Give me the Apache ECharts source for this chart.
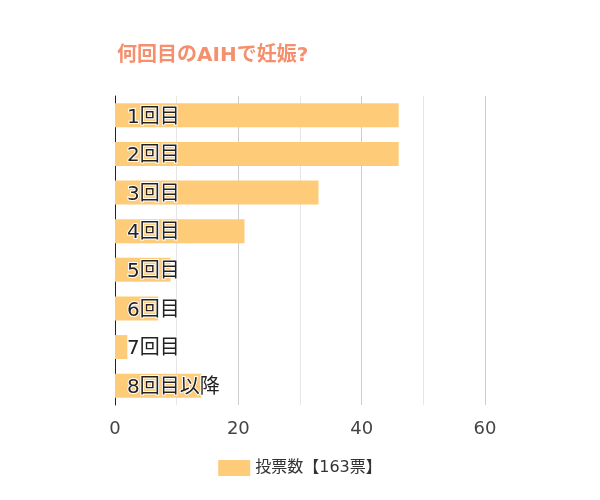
<!DOCTYPE html>
<html>
<head>
    <meta charset="UTF-8">
    <title>何回目のAIHで妊娠?</title>
    <script src="https://cdn.jsdelivr.net/npm/echarts@6/dist/echarts.min.js"></script>
</head>
<body style="margin:0">
<div id="chart" style="width:600px;height:500px;"></div>
<script type="text/javascript">
    var categories = ['1回目', '2回目', '3回目', '4回目', '5回目', '6回目', '7回目', '8回目以降'];
    var votes = [46, 46, 33, 21, 9, 7, 2, 14];
    var xTicks = [0, 20, 40, 60];

    var myChart = echarts.init(document.getElementById('chart'));
    var font = '"DejaVu Sans", "Noto Sans CJK JP", sans-serif';

    myChart.setOption({
        textStyle: {fontFamily: font},
        title: {
            text: '何回目のAIHで妊娠?',
            left: 112,
            top: 41,
            textStyle: {color: '#f5906e', fontSize: 20, fontWeight: 'bold', fontFamily: font}
        },
        legend: {
            data: [{name: '投票数【163票】', icon: 'rect'}],
            bottom: 19,
            left: 'center',
            itemWidth: 32,
            itemHeight: 16,
            textStyle: {fontSize: 16, color: '#333', fontFamily: font}
        },
        grid: {left: 115, right: 115, top: 96, bottom: 95},
        xAxis: {
            type: 'value',
            min: 0,
            max: 60,
            interval: 20,
            axisLabel: {
                fontSize: 18, color: '#444', margin: 15, fontFamily: font,
                formatter: function (v) { return xTicks.indexOf(v) >= 0 ? v : ''; }
            },
            splitLine: {lineStyle: {color: '#ccc'}},
            minorTick: {show: false, splitNumber: 2},
            minorSplitLine: {show: true, lineStyle: {color: '#e6e6e6'}}
        },
        yAxis: {
            type: 'category',
            data: categories,
            inverse: true,
            axisLine: {lineStyle: {color: '#222'}},
            axisTick: {show: false},
            axisLabel: {show: false}
        },
        series: [{
            name: '投票数【163票】',
            type: 'bar',
            data: votes,
            barCategoryGap: '38%',
            itemStyle: {color: '#fecc78'},
            label: {
                show: true,
                position: 'insideLeft',
                distance: 12,
                offset: [0, 2],
                formatter: '{b}',
                fontSize: 20,
                fontFamily: font,
                color: '#222',
                textBorderColor: '#fff',
                textBorderWidth: 2
            }
        }]
    });
</script>
</body>
</html>
